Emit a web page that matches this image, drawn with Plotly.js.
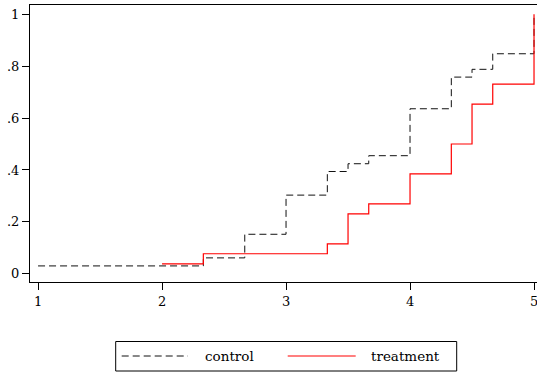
<!DOCTYPE html>
<html>
<head>
<meta charset="utf-8">
<script src="https://cdn.plot.ly/plotly-3.0.1.min.js"></script>
<style>html,body{margin:0;padding:0;background:#fff;}#chart{width:537px;height:372px;}</style>
</head>
<body>
<div id="chart"></div>
<script>
// Control group: step points (empirical cumulative distribution)
const controlX = [1, 2.333, 2.667, 3, 3.333, 3.5, 3.667, 4, 4.333, 4.5, 4.667, 5];
const controlY = [0.030, 0.061, 0.152, 0.303, 0.394, 0.424, 0.455, 0.636, 0.758, 0.788, 0.848, 1.0];
// Treatment group
const treatX = [2, 2.333, 3.333, 3.5, 3.667, 4, 4.333, 4.5, 4.667, 5];
const treatY = [0.038, 0.077, 0.115, 0.231, 0.269, 0.385, 0.500, 0.654, 0.731, 1.0];
// Axis ticks
const xTicks = [1, 2, 3, 4, 5];
const xTickText = ['1', '2', '3', '4', '5'];
const yTicks = [0, 0.2, 0.4, 0.6, 0.8, 1];
const yTickText = ['0', '.2', '.4', '.6', '.8', '1'];
const seriesNames = ['control', 'treatment'];
const seriesColors = ['#111111', '#ff0000'];
const seriesDash = ['7px,4px', 'solid'];

const W = 537, H = 372;
const M = {l: 30, r: 0, t: 5, b: 90};
const plotW = W - M.l - M.r, plotH = H - M.t - M.b;
// pixel -> paper helpers (for the hand-drawn legend frame only)
const px = v => (v - M.l) / plotW;
const py = v => (H - M.b - v) / plotH;

const serif = 'DejaVu Serif, Liberation Serif, serif';
const tickFont = {family: serif, size: 13, color: '#000'};
const legFont = {family: serif, size: 13.5, color: '#000'};

const traces = [
  {x: controlX, y: controlY, name: seriesNames[0], type: 'scatter', mode: 'lines',
   line: {shape: 'hv', color: seriesColors[0], width: 1, dash: seriesDash[0]}},
  {x: treatX, y: treatY, name: seriesNames[1], type: 'scatter', mode: 'lines',
   line: {shape: 'hv', color: seriesColors[1], width: 1.2, dash: seriesDash[1]}}
];

const legendBox = {x0: 115.7, x1: 456.7, y0: 341.5, y1: 371};
const legendRow = 356;
const legendItems = [
  {lx0: 121.7, lx1: 188, tx: 203},
  {lx0: 287.7, lx1: 355.7, tx: 369}
];

const shapes = [
  {type: 'rect', xref: 'paper', yref: 'paper',
   x0: px(legendBox.x0), x1: px(legendBox.x1), y0: py(legendBox.y1), y1: py(legendBox.y0),
   line: {color: '#000', width: 1}, fillcolor: '#fff'}
];
const annotations = [];
legendItems.forEach((it, i) => {
  shapes.push({type: 'line', xref: 'paper', yref: 'paper',
    x0: px(it.lx0), x1: px(it.lx1), y0: py(legendRow), y1: py(legendRow),
    line: {color: seriesColors[i], width: i === 0 ? 1 : 1.2, dash: seriesDash[i]}});
  annotations.push({xref: 'paper', yref: 'paper', x: px(it.tx), y: py(legendRow),
    xanchor: 'left', yanchor: 'middle', text: seriesNames[i], showarrow: false,
    font: legFont});
});

const layout = {
  width: W, height: H,
  margin: M,
  paper_bgcolor: '#fff', plot_bgcolor: '#fff',
  font: tickFont,
  showlegend: false,
  xaxis: {
    range: [0.935, 5.024], tickvals: xTicks, ticktext: xTickText,
    showgrid: false, zeroline: false, showline: true, linecolor: '#000', linewidth: 1,
    mirror: true, ticks: 'outside', ticklen: 7, tickcolor: '#000', tickfont: tickFont,
    ticklabeloverflow: 'allow'
  },
  yaxis: {
    range: [-0.032, 1.036], tickvals: yTicks, ticktext: yTickText,
    showgrid: false, zeroline: false, showline: true, linecolor: '#000', linewidth: 1,
    ticks: 'outside', ticklen: 7, tickcolor: '#000', tickfont: tickFont,
    ticklabeloverflow: 'allow'
  },
  shapes: shapes,
  annotations: annotations
};

Plotly.newPlot('chart', traces, layout, {displayModeBar: false, staticPlot: true});
</script>
</body>
</html>
